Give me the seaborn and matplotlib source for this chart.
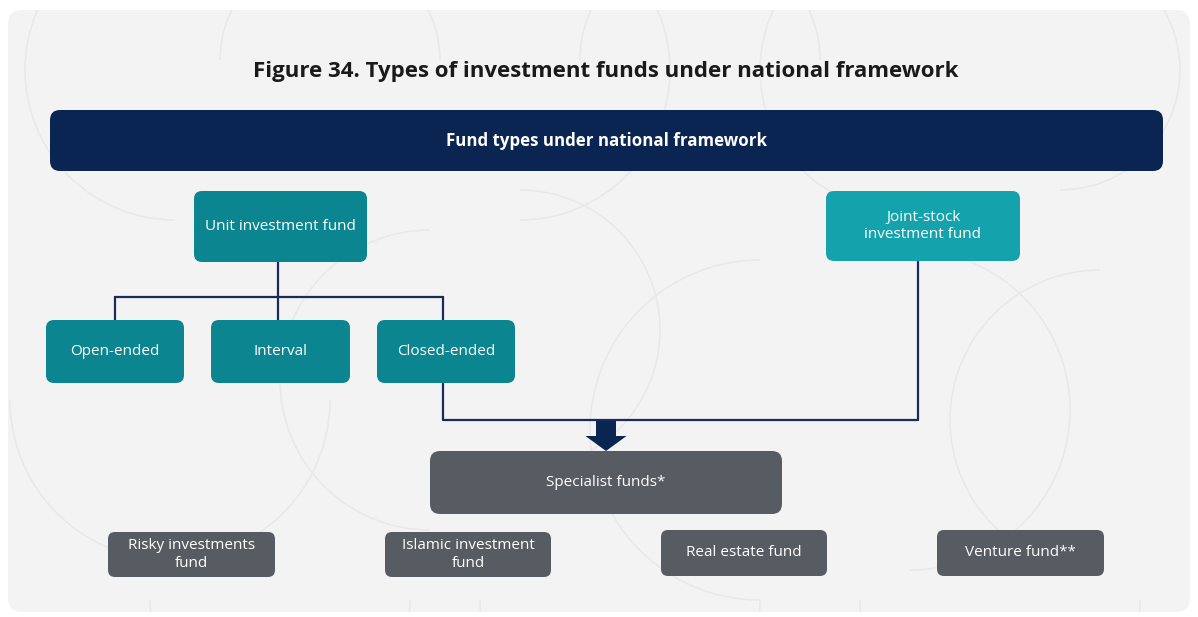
import matplotlib
matplotlib.use("Agg")
import matplotlib.pyplot as plt
import seaborn as sns
from matplotlib.patches import FancyBboxPatch, Arc, FancyArrow

# Textes du schema
title = "Figure 34. Types of investment funds under national framework"
header = "Fund types under national framework"
parents = ["Unit investment fund", "Joint-stock\ninvestment fund"]
unit_children = ["Open-ended", "Interval", "Closed-ended"]
specialist = "Specialist funds*"
specialist_children = ["Risky investments\nfund", "Islamic investment\nfund",
                       "Real estate fund", "Venture fund**"]

# Couleurs
navy = "#0b2552"
teal = "#0b8590"
teal_light = "#14a3ad"
grey = "#575b62"
panel = "#f3f3f3"
line_col = "#1c2a5a"

sns.set_theme(style="white")
plt.rcParams["font.family"] = ["Open Sans", "DejaVu Sans"]

fig = plt.figure(figsize=(11.98, 6.17), dpi=100)
ax = fig.add_axes([0, 0, 1, 1])
ax.set_xlim(0, 1198)
ax.set_ylim(617, 0)
ax.axis("off")

# fond gris arrondi
bg = FancyBboxPatch((8, 10), 1182, 602, boxstyle="round,pad=0,rounding_size=14",
                    fc=panel, ec="none", zorder=0)
ax.add_patch(bg)

# motif d'arcs discrets en fond
arc_col = "#e8e8e8"
for cx, cy, r, t1, t2 in [(175, 70, 150, 90, 270), (330, 60, 110, 180, 360), (520, 70, 150, 270, 450),
                          (700, 60, 120, 180, 360), (900, 70, 140, 90, 270), (1060, 70, 120, 270, 450),
                          (170, 400, 160, 0, 180), (430, 380, 150, 90, 270), (520, 330, 140, 270, 450),
                          (760, 430, 170, 90, 270), (910, 410, 160, 270, 450), (1100, 420, 150, 90, 270),
                          (280, 600, 130, 0, 180), (620, 600, 140, 0, 180), (1000, 600, 140, 0, 180)]:
    a = Arc((cx, cy), 2 * r, 2 * r, theta1=t1, theta2=t2, color=arc_col, lw=1.1, zorder=0.5)
    ax.add_patch(a)
    a.set_clip_path(bg)


def box(x0, y0, x1, y1, color, text, fs=11, weight="normal", rs=8):
    ax.add_patch(FancyBboxPatch((x0, y0), x1 - x0, y1 - y0,
                                boxstyle=f"round,pad=0,rounding_size={rs}",
                                fc=color, ec="none", zorder=3))
    ax.text((x0 + x1) / 2, (y0 + y1) / 2, text, ha="center", va="center", color="white",
            fontsize=fs, fontweight=weight, linespacing=1.25, zorder=4)


ax.text(606, 72, title, ha="center", va="center", fontsize=16, fontweight="bold", color="#1a1a1a")

box(50, 110, 1163, 171, navy, header, fs=12.2, weight="bold", rs=10)

box(194, 191, 367, 262, teal, parents[0])
box(826, 191, 1020, 261, teal_light, parents[1])

child_x = [(46, 184), (211, 350), (377, 515)]
for (x0, x1), lab in zip(child_x, unit_children):
    box(x0, 320, x1, 383, teal, lab)

# connecteurs
lw = 1.6
ax.plot([278, 278], [262, 297], color=line_col, lw=lw, zorder=2)
ax.plot([115, 443], [297, 297], color=line_col, lw=lw, zorder=2)
for xc in [115, 278, 443]:
    ax.plot([xc, xc], [297, 320], color=line_col, lw=lw, zorder=2)
ax.plot([443, 443, 918, 918], [383, 420, 420, 261], color=line_col, lw=lw, zorder=2)

# fleche vers fonds specialises
ax.add_patch(FancyArrow(606, 421, 0, 30, width=20, head_width=41, head_length=15,
                        length_includes_head=True, fc=navy, ec="none", zorder=3))

box(430, 451, 782, 514, grey, specialist, rs=10)

bottom_pos = [(108, 275, 532, 577), (385, 551, 532, 577), (661, 827, 530, 576), (937, 1104, 530, 576)]
for (x0, x1, y0, y1), lab in zip(bottom_pos, specialist_children):
    box(x0, y0, x1, y1, grey, lab, rs=7)

fig.savefig("out.png", dpi=100, facecolor="white")
